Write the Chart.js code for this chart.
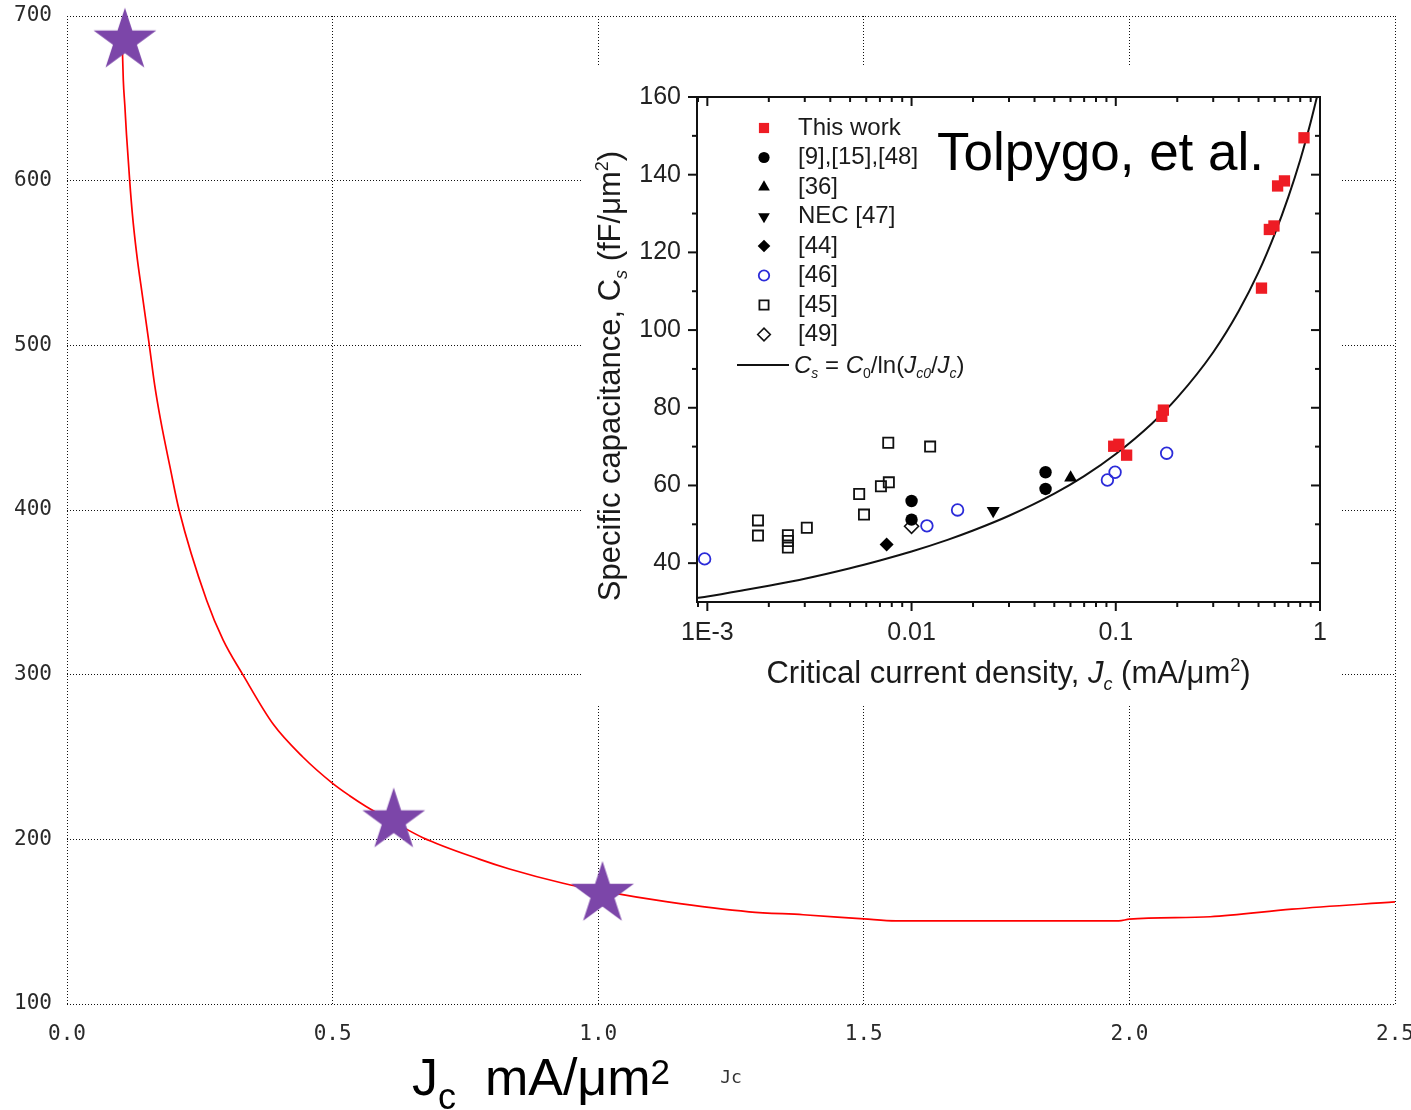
<!DOCTYPE html>
<html lang="en">
<head>
<meta charset="UTF-8">
<title>Specific capacitance vs Jc</title>
<script src="https://cdn.jsdelivr.net/npm/chart.js"></script>
<style>
  html, body { margin: 0; padding: 0; background: #fff; }
  #wrap { position: relative; width: 1411px; height: 1110px; overflow: hidden; }
  #mainChart { position: absolute; left: 0; top: 0; }
  #inset { position: absolute; left: 583px; top: 65px; width: 757px; height: 640px; background: #fff; }
</style>
</head>
<body>
<div id="wrap">
  <canvas id="mainChart" width="1411" height="1110"></canvas>
  <div id="inset"><canvas id="insetChart" width="757" height="640"></canvas></div>
</div>
<script>
// ---- main chart data (Jc in mA/um2) ----
const curveX = [0.104, 0.106, 0.109, 0.112, 0.118, 0.123, 0.131, 0.142, 0.155, 0.165, 0.176, 0.194, 0.211, 0.263, 0.294, 0.331, 0.388, 0.444, 0.5, 0.532, 0.563, 0.615, 0.67, 0.776, 0.833, 0.932, 1.008, 1.131, 1.284, 1.386, 1.5, 1.56, 1.7, 1.85, 1.98, 2.0, 2.152, 2.306, 2.5];
const curveY = [683, 661, 645, 628, 600, 580, 556, 530, 500, 476, 455, 426, 400, 345, 321, 300, 270, 250, 234, 226.5, 220, 210.5, 201, 188, 182, 173.5, 168.5, 162, 156, 154.2, 151.7, 150.5, 150.5, 150.5, 150.5, 151.5, 153, 157.6, 162];
const starX = [0.109, 0.615, 1.008];
const starY = [685, 211.4, 166.8];
const xTicks = [0, 0.5, 1.0, 1.5, 2.0, 2.5];
const xTickLabels = ['0.0', '0.5', '1.0', '1.5', '2.0', '2.5'];
const yTicks = [100, 200, 300, 400, 500, 600, 700];

// ---- inset data (Tolpygo et al.) ----
const thisWorkX = [0.0977, 0.1035, 0.113, 0.168, 0.171, 0.517, 0.565, 0.595, 0.62, 0.67, 0.835];
const thisWorkY = [70.1, 70.6, 67.8, 77.8, 79.4, 110.8, 125.9, 126.8, 137.1, 138.4, 149.5];
const ref9X = [0.01, 0.01, 0.0453, 0.0453];
const ref9Y = [56.0, 51.2, 63.4, 59.1];
const ref36X = [0.0601];
const ref36Y = [62.0];
const nec47X = [0.0251];
const nec47Y = [53.5];
const ref44X = [0.00755];
const ref44Y = [44.8];
const ref46X = [0.00097, 0.01189, 0.0168, 0.091, 0.0992, 0.1775];
const ref46Y = [41.1, 49.6, 53.7, 61.4, 63.4, 68.3];
const ref45X = [0.00769, 0.01233, 0.00774, 0.00708, 0.00554, 0.00585, 0.00177, 0.00177, 0.00307, 0.00248, 0.00248, 0.00248];
const ref45Y = [71.0, 70.0, 60.8, 59.8, 57.8, 52.5, 51.0, 47.1, 49.1, 47.2, 45.7, 44.0];
const ref49X = [0.01];
const ref49Y = [49.5];
const fitX = [0.00089, 0.001, 0.0015, 0.002, 0.003, 0.005, 0.007, 0.01, 0.015, 0.02, 0.03, 0.05, 0.07, 0.1, 0.15, 0.2, 0.3, 0.4, 0.5, 0.6, 0.7, 0.8, 0.9, 0.966];
const fitY = [31.0, 31.4, 33.0, 34.2, 36.0, 38.7, 40.7, 43.0, 46.0, 48.4, 52.2, 57.9, 62.4, 68.1, 75.9, 82.6, 94.3, 104.9, 114.9, 124.7, 134.3, 143.8, 153.5, 160];
const legendLabels = ['This work', '[9],[15],[48]', '[36]', 'NEC [47]', '[44]', '[46]', '[45]', '[49]'];
const insetXTicks = [0.001, 0.01, 0.1, 1];
const insetXTickLabels = ['1E-3', '0.01', '0.1', '1'];
const insetXMinor = [0.0009, 0.002, 0.003, 0.004, 0.005, 0.006, 0.007, 0.008, 0.009, 0.02, 0.03, 0.04, 0.05, 0.06, 0.07, 0.08, 0.09, 0.2, 0.3, 0.4, 0.5, 0.6, 0.7, 0.8, 0.9];
const insetYTicks = [40, 60, 80, 100, 120, 140, 160];
const insetYMinor = [50, 70, 90, 110, 130, 150];

const SANS = "'Liberation Sans', Arial, sans-serif";
const MONO = "'DejaVu Sans Mono', monospace";

const pts = (xs, ys) => xs.map((x, i) => ({ x: x, y: ys[i] }));

function makeStar(r, color) {
    const c = document.createElement('canvas');
    const s = Math.ceil(r * 2 + 2);
    c.width = s; c.height = s;
    const g = c.getContext('2d');
    g.fillStyle = color;
    g.beginPath();
    for (let i = 0; i < 10; i++) {
        const rad = i % 2 === 0 ? r : r * 0.382;
        const a = -Math.PI / 2 + i * Math.PI / 5;
        const px = s / 2 + rad * Math.cos(a), py = s / 2 + rad * Math.sin(a);
        if (i === 0) g.moveTo(px, py); else g.lineTo(px, py);
    }
    g.closePath();
    g.fill();
    return c;
}

// text made of pieces with own size / offset (sub- and superscripts)
function seg(t, size, dy, italic) { return { t: t, size: size, dy: dy || 0, italic: !!italic }; }
function drawParts(ctx, parts, x, y, align) {
    let total = 0;
    parts.forEach(p => {
        ctx.font = (p.italic ? 'italic ' : '') + p.size + 'px ' + SANS;
        p.w = ctx.measureText(p.t).width;
        total += p.w;
    });
    let cx = align === 'center' ? x - total / 2 : x;
    ctx.textAlign = 'left';
    parts.forEach(p => {
        ctx.font = (p.italic ? 'italic ' : '') + p.size + 'px ' + SANS;
        ctx.fillText(p.t, cx, y + p.dy);
        cx += p.w;
    });
}

const gridStyle = { color: '#111', lineWidth: 1, drawTicks: false };

// ---------------- main chart ----------------
const bigLabel = {
    id: 'bigLabel',
    afterDraw(chart) {
        const ctx = chart.ctx;
        ctx.save();
        ctx.fillStyle = '#000';
        ctx.textBaseline = 'alphabetic';
        drawParts(ctx, [seg('J', 52), seg('c', 36, 14), seg('  mA/\u03bcm', 52), seg('2', 35, -11)], 412, 1095, 'left');
        ctx.restore();
    }
};

new Chart(document.getElementById('mainChart'), {
    type: 'scatter',
    data: {
        datasets: [
            {
                label: 'points',
                data: pts(starX, starY),
                pointStyle: makeStar(33, '#7c46a9'),
                pointRadius: 33,
                clip: false,
                showLine: false
            },
            {
                label: 'Cs',
                data: pts(curveX, curveY),
                showLine: true,
                borderColor: '#ff0000',
                borderWidth: 1.7,
                pointRadius: 0,
                cubicInterpolationMode: 'monotone'
            }
        ]
    },
    options: {
        responsive: false,
        animation: false,
        layout: { autoPadding: false, padding: { left: 0, top: 16, right: 16, bottom: 0 } },
        plugins: { legend: { display: false }, tooltip: { enabled: false } },
        scales: {
            x: {
                type: 'linear', min: 0, max: 2.5,
                afterBuildTicks: s => { s.ticks = xTicks.map(v => ({ value: v })); },
                afterFit: s => { s.height = 106; s.paddingLeft = 0; s.paddingRight = 0; },
                ticks: { callback: (v, i) => xTickLabels[i], font: { family: MONO, size: 21 }, color: '#2a2a2a', padding: 18, maxRotation: 0, autoSkip: false },
                grid: gridStyle,
                border: { display: false, dash: [1, 2] },
                title: { display: true, text: 'Jc', font: { family: MONO, size: 18 }, color: '#333', padding: { top: 0, bottom: 21 } }
            },
            y: {
                type: 'linear', min: 100, max: 700,
                afterBuildTicks: s => { s.ticks = yTicks.map(v => ({ value: v })); },
                afterFit: s => { s.width = 67; s.paddingTop = 0; s.paddingBottom = 0; },
                ticks: { callback: (v, i) => String(yTicks[i]), font: { family: MONO, size: 21 }, color: '#2a2a2a', padding: 15 },
                grid: gridStyle,
                border: { display: false, dash: [1, 2] }
            }
        }
    },
    plugins: [bigLabel]
});

// ---------------- inset ----------------
const insetSeries = [
    { label: legendLabels[0], data: pts(thisWorkX, thisWorkY), pointStyle: 'rect', pointRadius: 8, backgroundColor: '#ee1c24', borderColor: '#ee1c24', borderWidth: 0 },
    { label: legendLabels[1], data: pts(ref9X, ref9Y), pointStyle: 'circle', pointRadius: 6.2, backgroundColor: '#000', borderColor: '#000', borderWidth: 0 },
    { label: legendLabels[2], data: pts(ref36X, ref36Y), pointStyle: 'triangle', pointRadius: 7.5, backgroundColor: '#000', borderColor: '#000', borderWidth: 0 },
    { label: legendLabels[3], data: pts(nec47X, nec47Y), pointStyle: 'triangle', pointRotation: 180, pointRadius: 7.5, backgroundColor: '#000', borderColor: '#000', borderWidth: 0 },
    { label: legendLabels[4], data: pts(ref44X, ref44Y), pointStyle: 'rectRot', pointRadius: 7, backgroundColor: '#000', borderColor: '#000', borderWidth: 0 },
    { label: legendLabels[5], data: pts(ref46X, ref46Y), pointStyle: 'circle', pointRadius: 5.8, backgroundColor: 'rgba(0,0,0,0)', borderColor: '#2b2bd9', borderWidth: 1.8 },
    { label: legendLabels[6], data: pts(ref45X, ref45Y), pointStyle: 'rect', pointRadius: 7.2, backgroundColor: 'rgba(0,0,0,0)', borderColor: '#111', borderWidth: 1.8 },
    { label: legendLabels[7], data: pts(ref49X, ref49Y), pointStyle: 'rectRot', pointRadius: 7, backgroundColor: 'rgba(0,0,0,0)', borderColor: '#111', borderWidth: 1.6 }
];
const fitSeries = {
    label: 'fit', data: pts(fitX, fitY), showLine: true, borderColor: '#111', borderWidth: 2,
    pointRadius: 0, cubicInterpolationMode: 'monotone'
};

const insetDecor = {
    id: 'insetDecor',
    afterDraw(chart) {
        const ctx = chart.ctx, ca = chart.chartArea;
        const xs = chart.scales.x, ys = chart.scales.y;
        ctx.save();
        ctx.strokeStyle = '#111';
        ctx.lineWidth = 2;
        ctx.strokeRect(ca.left, ca.top, ca.right - ca.left, ca.bottom - ca.top);
        const line = (x1, y1, x2, y2) => { ctx.beginPath(); ctx.moveTo(x1, y1); ctx.lineTo(x2, y2); ctx.stroke(); };
        insetXTicks.forEach(v => { const p = xs.getPixelForValue(v); line(p, ca.bottom, p, ca.bottom + 9); line(p, ca.top, p, ca.top + 9); });
        insetXMinor.forEach(v => { const p = xs.getPixelForValue(v); line(p, ca.bottom, p, ca.bottom + 5); line(p, ca.top, p, ca.top + 5); });
        insetYTicks.forEach(v => { const p = ys.getPixelForValue(v); line(ca.left - 9, p, ca.left, p); line(ca.right - 9, p, ca.right, p); });
        insetYMinor.forEach(v => { const p = ys.getPixelForValue(v); line(ca.left - 5, p, ca.left, p); line(ca.right - 5, p, ca.right, p); });

        // legend
        const mx = 181, tx = 215, y0 = 63, dy = 29.5;
        ctx.textBaseline = 'middle';
        insetSeries.forEach((ds, i) => {
            const y = y0 + i * dy;
            ctx.fillStyle = ds.backgroundColor;
            ctx.strokeStyle = ds.borderColor;
            ctx.lineWidth = ds.borderWidth;
            Chart.helpers.drawPoint(ctx, { pointStyle: ds.pointStyle, rotation: ds.pointRotation || 0, radius: ds.pointRadius * 0.9, borderWidth: ds.borderWidth }, mx, y);
            ctx.fillStyle = '#1a1a1a';
            ctx.font = '24px ' + SANS;
            ctx.textAlign = 'left';
            ctx.fillText(ds.label, tx, y);
        });
        const ly = y0 + insetSeries.length * dy + 1;
        ctx.strokeStyle = fitSeries.borderColor;
        ctx.lineWidth = 2;
        line(154, ly, 206, ly);
        ctx.fillStyle = '#1a1a1a';
        ctx.textBaseline = 'alphabetic';
        drawParts(ctx, [seg('C', 24, 0, true), seg('s', 14, 5, true), seg(' = ', 24), seg('C', 24, 0, true), seg('0', 14, 5),
            seg('/ln(', 24), seg('J', 24, 0, true), seg('c0', 14, 5, true), seg('/', 24), seg('J', 24, 0, true), seg('c', 14, 5, true), seg(')', 24)], 211, ly + 8, 'left');

        // axis titles
        drawParts(ctx, [seg('Critical current density, ', 31), seg('J', 31, 0, true), seg('c', 18, 7, true), seg(' (mA/\u03bcm', 31), seg('2', 18, -12), seg(')', 31)],
            (ca.left + ca.right) / 2, 618, 'center');
        ctx.save();
        ctx.translate(37, 311);
        ctx.rotate(-Math.PI / 2);
        drawParts(ctx, [seg('Specific capacitance, ', 31), seg('C', 31), seg('s', 18, 7, true), seg(' (fF/\u03bcm', 31), seg('2', 18, -12), seg(')', 31)], 0, 0, 'center');
        ctx.restore();

        ctx.fillStyle = '#000';
        ctx.font = '53px ' + SANS;
        ctx.fillText('Tolpygo, et al.', 354, 105);
        ctx.restore();
    }
};

new Chart(document.getElementById('insetChart'), {
    type: 'scatter',
    data: { datasets: insetSeries.concat([fitSeries]) },
    options: {
        responsive: false,
        animation: false,
        layout: { autoPadding: false, padding: { left: 0, top: 32, right: 20, bottom: 0 } },
        plugins: { legend: { display: false }, tooltip: { enabled: false } },
        scales: {
            x: {
                type: 'logarithmic', min: 0.00089, max: 1,
                afterBuildTicks: s => { s.ticks = insetXTicks.map(v => ({ value: v })); },
                afterFit: s => { s.height = 103; s.paddingLeft = 0; s.paddingRight = 0; },
                ticks: { callback: (v, i) => insetXTickLabels[i], font: { family: SANS, size: 25 }, color: '#222', padding: 16, maxRotation: 0, autoSkip: false },
                grid: { display: false, drawTicks: false },
                border: { display: false }
            },
            y: {
                type: 'linear', min: 30, max: 160,
                afterBuildTicks: s => { s.ticks = insetYTicks.map(v => ({ value: v })); },
                afterFit: s => { s.width = 114; s.paddingTop = 0; s.paddingBottom = 0; },
                ticks: { callback: (v, i) => String(insetYTicks[i]), font: { family: SANS, size: 25 }, color: '#222', padding: 16 },
                grid: { display: false, drawTicks: false },
                border: { display: false }
            }
        }
    },
    plugins: [insetDecor]
});
</script>
</body>
</html>
